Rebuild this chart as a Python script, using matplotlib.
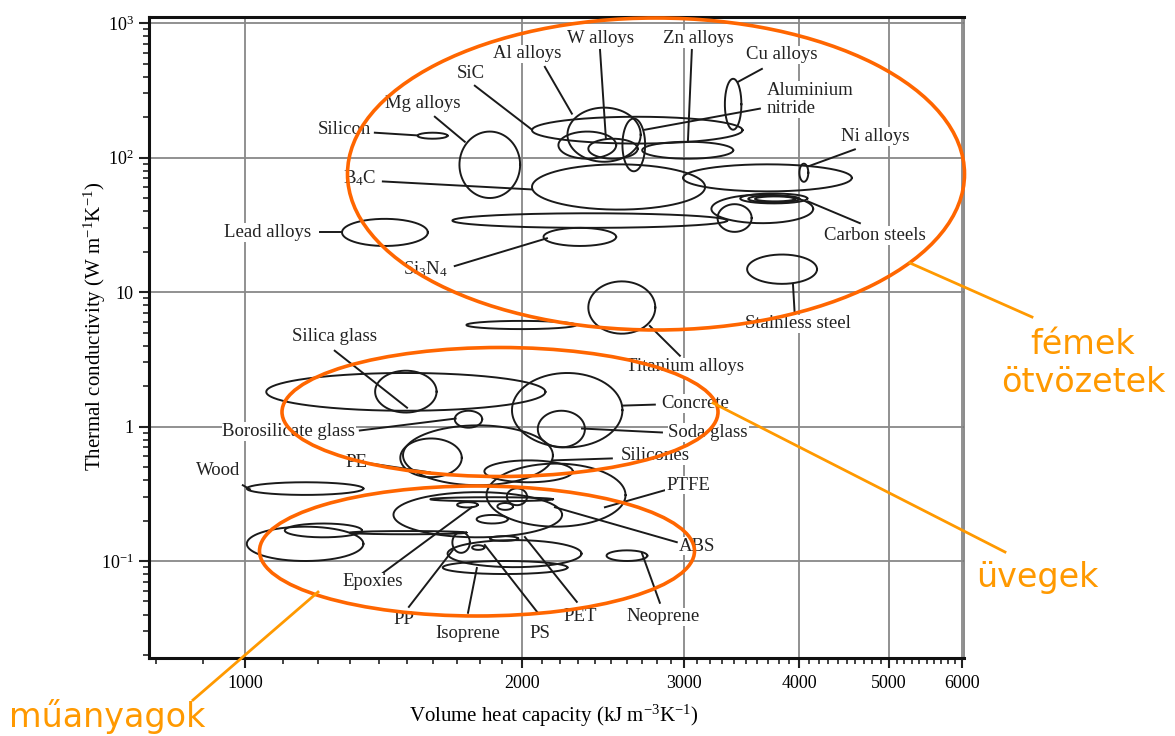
import numpy as np
import matplotlib.pyplot as plt
from matplotlib.patches import Ellipse
from matplotlib.lines import Line2D
from matplotlib.ticker import FixedLocator, NullFormatter

plt.rcParams['font.family'] = ['Liberation Serif', 'DejaVu Serif']
plt.rcParams['mathtext.fontset'] = 'custom'
plt.rcParams['mathtext.rm'] = 'Liberation Serif'
plt.rcParams['mathtext.it'] = 'Liberation Serif:italic'

# property bubbles: volume heat capacity (kJ m-3 K-1) and thermal conductivity (W m-1 K-1)
heat_lo = [1540, 1710, 2050, 2240, 2190, 2360, 2570, 2700, 3320, 2050, 2990, 4000,
           1680, 2110, 3260, 3210, 3450, 3520, 3580, 3510, 2360, 1740, 1275,
           1055, 1385, 1690, 1950, 2080, 1485, 1475, 1820, 1005,
           1830, 1450, 1005, 1105, 1300, 1590, 1700, 1880, 1925, 1785, 1680,
           1845, 1660, 1640, 1765, 2470]
heat_hi = [1660, 1990, 3470, 2690, 2530, 2670, 2720, 3390, 3460, 3160, 4560, 4090,
           3340, 2530, 3550, 4140, 4080, 4000, 3955, 4180, 2790, 2290, 1580,
           2120, 1615, 1810, 2570, 2340, 2160, 1720, 2270, 1345,
           2590, 2210, 1345, 1340, 1740, 2160, 1790, 1955, 2025, 1930, 1755,
           1980, 2320, 2240, 1820, 2735]
cond_lo = [138, 50, 127, 93, 98, 98, 79, 98, 161, 41, 56, 66,
           30, 22, 28, 32.5, 45.6, 46.4, 47.2, 11.5, 4.9, 5.3, 22,
           1.31, 1.27, 0.98, 0.70, 0.70, 0.366, 0.42, 0.385, 0.31,
           0.18, 0.15, 0.10, 0.15, 0.158, 0.278, 0.25, 0.24, 0.26, 0.19, 0.115,
           0.141, 0.09, 0.080, 0.121, 0.10]
cond_hi = [153, 156, 201, 235, 156, 138, 195, 131, 385, 89, 89, 90,
           38.5, 30, 45, 53, 54, 52.3, 51.4, 19, 12, 6.1, 35,
           2.5, 2.6, 1.31, 2.5, 1.31, 1.02, 0.815, 0.56, 0.385,
           0.53, 0.325, 0.18, 0.19, 0.167, 0.298, 0.274, 0.27, 0.347, 0.22, 0.164,
           0.153, 0.143, 0.10, 0.131, 0.12]

# labels: text, position and leader line (from, to) in data units
lab_text = ['Al alloys', 'W alloys', 'Zn alloys', 'Cu alloys', 'SiC', 'Mg alloys', 'Silicon',
            'Ni alloys', 'B$_4$C', 'Lead alloys', 'Carbon steels', 'Si$_3$N$_4$',
            'Stainless steel', 'Titanium alloys', 'Silica glass', 'Borosilicate glass',
            'Wood', 'PE', 'Concrete', 'Soda glass', 'Silicones', 'PTFE', 'ABS',
            'Epoxies', 'PP', 'Isoprene', 'PS', 'PET', 'Neoprene']
lab_x = [2024, 2430, 3104, 3830, 1760, 1561, 1284, 4831, 1333, 1059, 4831, 1569,
         3985, 3003, 1252, 1116, 935, 1323, 3081, 3183, 2787, 3027, 3096,
         1377, 1488, 1747, 2090, 2311, 2843]
lab_y = [589, 761, 761, 579, 419, 251, 161, 143, 69.9, 27.8, 26.4, 14.8,
         5.79, 2.78, 4.64, 0.918, 0.472, 0.541, 1.48, 0.903, 0.61, 0.366, 0.129,
         0.0699, 0.0366, 0.0288, 0.0288, 0.0385, 0.0385]
lead_x0 = [2117, 2430, 3057, 3642, 1777, 1608, 1384, 4595, 1412, 1206, 4653, 1690,
           3955, 2967, 1252, 1333, 995, 1367, 2787, 2837, 2503, 2858, 2944,
           1412, 1507, 1747, 2080, 2293, 2822]
lead_y0 = [472, 631, 631, 456, 342, 201, 153, 115, 66.4, 27.8, 32.5, 15.6,
           6.53, 3.36, 3.66, 0.934, 0.366, 0.532, 1.455, 0.903, 0.579, 0.336, 0.138,
           0.0815, 0.0456, 0.0412, 0.0412, 0.0497, 0.0489]
lead_x1 = [2265, 2466, 3027, 3430, 2050, 1733, 1541, 4086, 2050, 1274, 4086, 2128,
           3936, 2752, 1500, 1694, 1013, 1588, 2567, 2323, 2160, 2460, 2171,
           1764, 1682, 1786, 1822, 2014, 2698]
lead_y1 = [212, 138, 131, 365, 161, 131, 146, 85.8, 57.9, 27.8, 47.2, 25.1,
           11.5, 5.6, 1.38, 1.146, 0.341, 0.456, 1.43, 0.966, 0.56, 0.251, 0.251,
           0.251, 0.1206, 0.0887, 0.1315, 0.1507, 0.1146]

W, H = 1175, 736
fig = plt.figure(figsize=(W / 100, H / 100), dpi=100)
ax = fig.add_axes([149 / W, 1 - 658 / H, 815 / W, 641 / H])
ax.set_xscale('log')
ax.set_yscale('log')
ax.set_xlim(787, 6036)
ax.set_ylim(0.019, 1109)

ax.set_xticks([1000, 2000, 3000, 4000, 5000, 6000])
ax.set_xticklabels(['1000', '2000', '3000', '4000', '5000', '6000'])
ax.xaxis.set_minor_locator(FixedLocator(np.arange(800, 6100, 100)))
ax.xaxis.set_minor_formatter(NullFormatter())
ax.set_yticks([0.1, 1, 10, 100, 1000])
ax.set_yticklabels(['10$^{-1}$', '1', '10', '10$^2$', '10$^3$'])
ax.tick_params(which='major', length=7, width=1.5, labelsize=13, color='#222')
ax.tick_params(which='minor', length=4, width=1.2, color='#222')
ax.tick_params(axis='x', which='major', pad=5)
ax.tick_params(axis='y', which='major', pad=4)
ax.grid(True, which='major', color='#888888', lw=1.3)
ax.set_axisbelow(True)

for s in ['left', 'bottom', 'top']:
    ax.spines[s].set_linewidth(2.2)
    ax.spines[s].set_color('#111')
ax.spines['right'].set_linewidth(1.2)
ax.spines['right'].set_color('#777')

ax.set_xlabel('Volume heat capacity (kJ m$^{-3}$K$^{-1}$)', fontsize=15)
ax.set_ylabel('Thermal conductivity (W m$^{-1}$K$^{-1}$)', fontsize=15)
ax.xaxis.set_label_coords(0.497, -0.07)
ax.yaxis.set_label_coords(-0.05, 0.518)

t = np.linspace(0, 2 * np.pi, 240)
for x0, x1, y0, y1 in zip(heat_lo, heat_hi, cond_lo, cond_hi):
    cx, rx = (np.log10(x0) + np.log10(x1)) / 2, (np.log10(x1) - np.log10(x0)) / 2
    cy, ry = (np.log10(y0) + np.log10(y1)) / 2, (np.log10(y1) - np.log10(y0)) / 2
    ax.plot(10 ** (cx + rx * np.cos(t)), 10 ** (cy + ry * np.sin(t)),
            color='#1a1a1a', lw=1.4, zorder=3)

for i in range(len(lab_text)):
    ax.plot([lead_x0[i], lead_x1[i]], [lead_y0[i], lead_y1[i]], color='#1a1a1a', lw=1.4, zorder=3)
    ax.text(lab_x[i], lab_y[i], lab_text[i], ha='center', va='center', fontsize=13.5,
            color='#222', zorder=4,
            bbox=dict(fc='white', ec='none', pad=0.6))

ax.plot([3624, 2719], [231, 161], color='#1a1a1a', lw=1.4, zorder=3)
ax.text(3688, 269, 'Aluminium\nnitride', ha='left', va='center', fontsize=13.5,
        color='#222', linespacing=1.1, zorder=4,
        bbox=dict(fc='white', ec='none', pad=0.6))


# orange overlay in figure pixels
def fp(x, y):
    return (x / W, 1 - y / H)


groups = [((656, 174), 617, 312), ((500, 412), 436, 129), ((477, 551), 435, 130)]
for c, w, h in groups:
    fig.add_artist(Ellipse(fp(*c), w / W, h / H, transform=fig.transFigure,
                           fill=False, ec='#FF6600', lw=2.6, zorder=5))

pointers = [((910, 263), (1032, 317)), ((713, 403), (1005, 552)), ((318, 592), (193, 700))]
for a, b in pointers:
    fig.add_artist(Line2D([fp(*a)[0], fp(*b)[0]], [fp(*a)[1], fp(*b)[1]],
                          transform=fig.transFigure, color='#FF9900', lw=2.0, zorder=6))

hu = dict(color='#FF9900', fontsize=24, family=['DejaVu Sans'], ha='center', va='center',
          transform=fig.transFigure)
fig.text(*fp(1083, 345), 'fémek', **hu)
fig.text(*fp(1083, 383), 'ötvözetek', **hu)
fig.text(*fp(1037, 578), 'üvegek', **hu)
fig.text(*fp(107, 716), 'műanyagok', **hu)

fig.savefig('out.png', dpi=100, facecolor='white')
